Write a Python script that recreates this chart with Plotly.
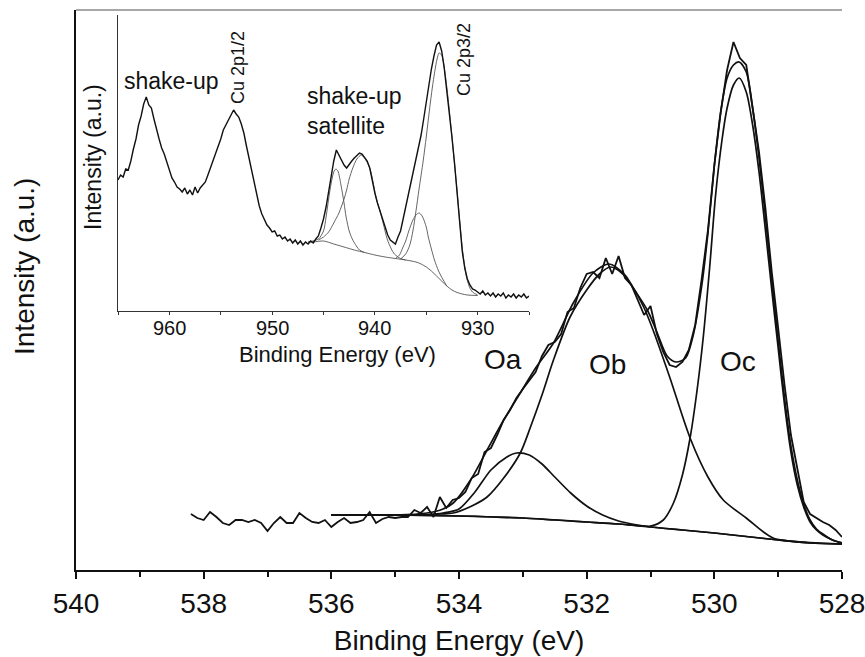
import numpy as np
import plotly.graph_objects as go

# ---------------- Main panel: O 1s ----------------
o1s_energy = np.round(np.arange(538.2, 527.95, -0.1), 1)
o1s_raw = [56, 52, 50, 58, 53, 47, 45, 50, 50, 48,
           50, 47, 39, 47, 53, 47, 47, 57, 52, 48,
           47, 50, 43, 48, 52, 47, 48, 50, 58, 47,
           51, 53, 52, 53, 53, 60, 57, 63, 53, 73,
           62, 70, 72, 78, 92, 96, 118, 122, 135, 150,
           160, 172, 181, 190, 198, 214, 225, 228, 236, 258,
           262, 282, 296, 298, 292, 312, 296, 314, 292, 285,
           270, 255, 264, 236, 218, 205, 203, 208, 220, 245,
           290, 340, 405, 458, 500, 528, 512, 505, 462, 418,
           362, 298, 242, 185, 135, 100, 68, 56, 52, 48,
           45, 40, 33]

env_e = [536.0, 535.0, 534.5, 534.25, 534.09, 533.8, 533.56, 533.3, 533.04, 532.8,
         532.52, 532.21, 531.9, 531.65, 531.4, 531.27, 531.05, 530.9, 530.74, 530.6,
         530.45, 530.33, 530.2, 530.1, 530.0, 529.9, 529.8, 529.7, 529.61, 529.5,
         529.4, 529.3, 529.2, 529.1, 529.0, 528.9, 528.8, 528.7, 528.6, 528.5,
         528.4, 528.3, 528.15, 528.0]
env_v = [55, 55, 57, 61, 67, 92, 120, 150, 177, 202,
         227, 267, 297, 306, 295, 282, 260, 238, 214, 208,
         212, 235, 283, 337, 404, 458, 492, 505, 508, 498,
         462, 412, 353, 290, 230, 172, 124, 90, 66, 50,
         41, 36, 30, 27]

bg_e = [536.0, 535.0, 534.5, 534.0, 533.5, 533.0, 532.5, 532.0, 531.5, 531.0,
        530.5, 530.0, 529.5, 529.0, 528.5, 528.0]
bg_v = [55, 55, 54.5, 54, 53, 52, 50, 48, 46, 43, 40, 37, 33.5, 30, 27, 26]

oa_e = [536.0, 535.0, 534.5, 534.25, 534.0, 533.75, 533.5, 533.25, 533.1, 532.9,
        532.7, 532.5, 532.25, 532.0, 531.75, 531.5, 531.25, 531.0, 530.5, 530.0,
        529.5, 529.0, 528.5, 528.0]
oa_v = [55, 55, 55.5, 57, 61, 78, 100, 113, 117, 115,
        106, 93, 77, 64, 55, 49, 45.5, 43, 40, 37,
        33.5, 30, 27, 26]

ob_e = [536.0, 535.0, 534.5, 534.3, 534.09, 533.8, 533.56, 533.3, 533.04, 532.88,
        532.7, 532.52, 532.26, 532.0, 531.8, 531.63, 531.45, 531.27, 531.1, 530.96,
        530.7, 530.38, 530.1, 529.86, 529.5, 529.08, 528.5, 528.0]
ob_v = [55, 55, 55, 56, 57, 64, 73, 92, 117, 143,
        175, 210, 253, 280, 296, 303, 297, 282, 262, 240,
        193, 132, 93, 70, 52, 32, 27.5, 26]

oc_e = [536.0, 535.0, 534.0, 533.0, 532.0, 531.5, 531.0, 530.8, 530.64, 530.5,
        530.38, 530.27, 530.17, 530.07, 529.98, 529.88, 529.8, 529.7, 529.61, 529.5,
        529.4, 529.3, 529.2, 529.1, 529.0, 528.9, 528.8, 528.7, 528.6, 528.5,
        528.4, 528.3, 528.15, 528.0]
oc_v = [55, 55, 54, 52, 48, 46, 44, 50, 67, 95,
        132, 180, 235, 305, 375, 430, 462, 485, 492, 478,
        445, 398, 340, 280, 222, 165, 118, 85, 63, 48,
        40, 35, 30, 27]

main_ticks = [540, 538, 536, 534, 532, 530, 528]
main_minor = [539, 537, 535, 533, 531, 529]

# ---------------- Inset: Cu 2p ----------------
cu_energy = np.round(np.arange(965.0, 924.9, -0.25), 2)
cu_raw = [131, 136, 134, 142, 141, 150, 162, 172, 186, 195,
          207, 214, 206, 203, 192, 181, 172, 163, 157, 149,
          140, 133, 129, 124, 122, 119, 123, 117, 121, 116,
          124, 118, 123, 126, 129, 136, 143, 150, 158, 166,
          172, 181, 186, 192, 196, 201, 197, 194, 187, 178,
          165, 153, 140, 127, 115, 105, 97, 91, 86, 83,
          79, 80, 75, 76, 72, 74, 70, 72, 68, 71,
          67, 70, 66, 69, 67, 70, 68, 72, 75, 83,
          92, 104, 120, 136, 150, 161, 156, 151, 146, 143,
          147, 150, 153, 156, 158, 157, 154, 150, 143, 130,
          118, 108, 100, 92, 84, 76, 71, 69, 67, 74,
          80, 92, 104, 115, 126, 137, 150, 162, 176, 192,
          210, 226, 242, 255, 266, 269, 260, 243, 222, 200,
          174, 148, 120, 90, 60, 43, 32, 26, 22, 21,
          19, 17, 20, 16, 18, 15, 18, 14, 17, 15,
          18, 13, 16, 14, 17, 13, 16, 14, 17, 13,
          15]

cu_bg_e = [946.5, 946.0, 945.0, 944.0, 943.0, 942.0, 941.0, 940.0, 939.0, 938.0,
           937.0, 936.0, 935.5, 935.0, 934.5, 934.0, 933.5, 933.0, 932.5, 932.0,
           931.5, 931.0, 930.0]
cu_bg_v = [69, 69, 70, 67, 64, 61, 58.5, 56, 54, 52.5,
           51, 49, 47, 44, 40, 35, 30, 25, 21, 18.5,
           17, 16, 15.5]

sat1_e = [946.5, 945.5, 945.0, 944.75, 944.5, 944.25, 944.0, 943.8, 943.6, 943.3,
          943.0, 942.8, 942.5, 942.2, 941.8, 941.5, 941.0]
sat1_v = [69, 72, 80, 94, 112, 128, 139, 142, 140, 126,
          108, 94, 80, 72, 65, 61, 58.5]

sat2_e = [945.5, 945.0, 944.5, 944.0, 943.5, 943.0, 942.75, 942.5, 942.15, 941.75,
          941.34, 941.0, 940.5, 940.2, 939.9, 939.5, 939.2, 938.8, 938.4, 938.1,
          937.5, 937.0]
sat2_v = [71, 74, 79, 88, 98, 112, 121, 132, 143, 152,
          156, 153, 143, 130, 114, 100, 88, 72, 62, 57,
          52.5, 51]

p3_e = [938.0, 937.6, 937.3, 937.0, 936.7, 936.3, 936.0, 935.7, 935.4, 935.0,
        934.8, 934.5, 934.2, 933.8, 933.4, 933.0]
p3_v = [52.5, 56, 63, 70, 80, 91, 96, 98, 95, 84,
        74, 62, 51, 40, 32, 25]

main_e = [937.5, 937.0, 936.6, 936.3, 936.0, 935.7, 935.3, 935.0, 934.7, 934.4,
          934.1, 933.9, 933.75, 933.5, 933.2, 932.9, 932.6, 932.3, 932.0, 931.7,
          931.4, 931.1, 930.8, 930.5, 930.0]
main_v = [52, 57, 66, 80, 100, 122, 150, 174, 200, 224,
          244, 254, 258, 256, 240, 215, 185, 153, 120, 85,
          55, 35, 24, 19, 16]

inset_ticks = [960, 950, 940, 930]
inset_minor = [965, 955, 945, 935, 925]

# ---------------- Layout geometry (pixels) ----------------
W, H = 865, 657
L, R, T, B = 76, 842, 10, 570
PW, PH = R - L, B - T


def px(x):
    return (x - L) / PW


def py(y):
    return (B - y) / PH


FONT = "Liberation Sans, Arial, sans-serif"
BLK = "#111111"
GREY = "#555555"

fig = go.Figure()

# main traces
fig.add_trace(go.Scatter(x=o1s_energy, y=o1s_raw, mode="lines",
                         line=dict(color=BLK, width=1.8), xaxis="x", yaxis="y"))
for ex, vy in [(bg_e, bg_v), (oa_e, oa_v), (ob_e, ob_v), (oc_e, oc_v), (env_e, env_v)]:
    fig.add_trace(go.Scatter(x=ex, y=vy, mode="lines",
                             line=dict(color=BLK, width=1.7, shape="spline", smoothing=0.8),
                             xaxis="x", yaxis="y"))

# inset traces
for ex, vy in [(cu_bg_e, cu_bg_v), (sat1_e, sat1_v), (sat2_e, sat2_v), (p3_e, p3_v), (main_e, main_v)]:
    fig.add_trace(go.Scatter(x=ex, y=vy, mode="lines",
                             line=dict(color=GREY, width=0.9, shape="spline", smoothing=0.8),
                             xaxis="x2", yaxis="y2"))
fig.add_trace(go.Scatter(x=cu_energy, y=cu_raw, mode="lines",
                         line=dict(color=BLK, width=1.4), xaxis="x2", yaxis="y2"))

fig.update_layout(
    width=W, height=H,
    margin=dict(l=L, r=W - R, t=T, b=H - B, pad=0),
    paper_bgcolor="white", plot_bgcolor="white",
    showlegend=False,
    font=dict(family=FONT, color=BLK),
    xaxis=dict(domain=[0, 1], range=[540, 528], autorange=False,
               tickvals=main_ticks, ticktext=[str(t) for t in main_ticks],
               ticks="outside", ticklen=7, tickwidth=2, tickcolor=BLK,
               ticklabeloverflow="allow",
               minor=dict(tickvals=main_minor, ticks="outside", ticklen=5, tickwidth=2, tickcolor=BLK),
               showline=True, linewidth=2, linecolor=BLK, showgrid=False, zeroline=False,
               tickfont=dict(size=28, family=FONT, color=BLK),
               title=dict(text="Binding Energy (eV)", font=dict(size=28, family=FONT, color=BLK), standoff=13),
               automargin=False),
    yaxis=dict(domain=[0, 1], range=[0, 560], autorange=False,
               showticklabels=False, ticks="", showline=True, linewidth=2, linecolor=BLK,
               showgrid=False, zeroline=False, automargin=False),
    xaxis2=dict(domain=[px(118), px(529)], anchor="y2", range=[965, 925], autorange=False,
                tickvals=inset_ticks + inset_minor, showticklabels=False,
                ticks="outside", ticklen=3, tickwidth=1, tickcolor="#333333",
                showline=True, linewidth=1, linecolor="#333333", showgrid=False, zeroline=False,
                automargin=False),
    yaxis2=dict(domain=[py(311), py(15)], anchor="x2", range=[0, 296], autorange=False,
                showticklabels=False, ticks="", showline=True, linewidth=1, linecolor="#333333",
                showgrid=False, zeroline=False, automargin=False),
)

# inset tick labels, placed on the inset x scale
for t in inset_ticks:
    fig.add_annotation(text=str(t), x=t, xref="x2", y=py(328), yref="paper",
                       xanchor="center", yanchor="middle", showarrow=False,
                       font=dict(size=20, family=FONT, color=BLK))

# top frame line (grey)
fig.add_shape(type="line", xref="paper", yref="paper", x0=0, x1=1, y0=1, y1=1,
              line=dict(color="#8a8a8a", width=1.5))

anns = [
    dict(text="Intensity (a.u.)", x=px(24), y=py(267), size=28, angle=-90),
    dict(text="Intensity (a.u.)", x=px(93), y=py(157), size=23, angle=-90),
    dict(text="Binding Energy (eV)", x=px(337), y=py(354), size=22, angle=0),
    dict(text="shake-up", x=px(171), y=py(81), size=23, angle=0),
    dict(text="Cu 2p1/2", x=px(238), y=py(68), size=18, angle=-90),
    dict(text="Cu 2p3/2", x=px(464), y=py(60), size=18, angle=-90),
    dict(text="Oa", x=px(503), y=py(359), size=28, angle=0),
    dict(text="Ob", x=px(607), y=py(364), size=28, angle=0),
    dict(text="Oc", x=px(738), y=py(361), size=28, angle=0),
]
for a in anns:
    fig.add_annotation(text=a["text"], x=a["x"], y=a["y"], xref="paper", yref="paper",
                       xanchor="center", yanchor="middle", showarrow=False, textangle=a["angle"],
                       font=dict(size=a["size"], family=FONT, color=BLK))
fig.add_annotation(text="shake-up<br>satellite", x=px(305), y=py(111), xref="paper", yref="paper",
                   xanchor="left", yanchor="middle", align="left", showarrow=False,
                   font=dict(size=23, family=FONT, color=BLK))

fig.write_html("out.html", config={"displayModeBar": False},
               post_script="document.body.style.margin='0px';")
